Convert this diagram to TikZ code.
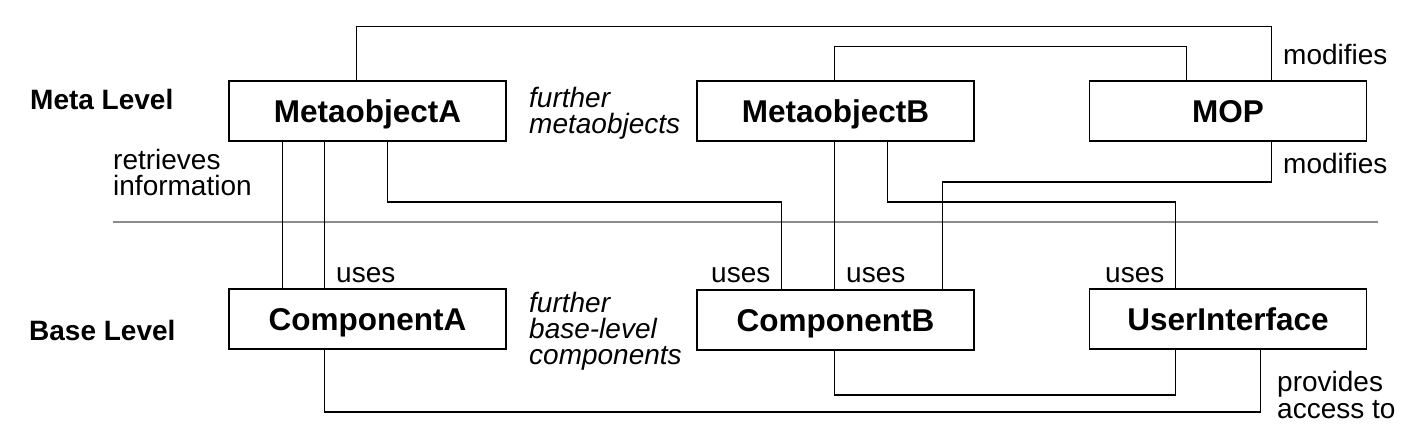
\documentclass[tikz,border=0pt]{standalone}
\usepackage{fontspec}
\setmainfont{Liberation Sans}
\begin{document}
\begin{tikzpicture}[x=1pt,y=-1pt,
  box/.style={draw=black,line width=1.6pt,minimum width=277pt,minimum height=60pt,inner sep=0pt,
    font=\fontsize{31.5}{33}\selectfont\bfseries,text height=22pt,text depth=0pt},
  lbl/.style={inner sep=0pt,anchor=base west,font=\fontsize{28}{30}\selectfont,align=left},
  ilbl/.style={lbl,font=\fontsize{28}{30}\selectfont\itshape},
  blbl/.style={lbl,font=\fontsize{28}{30}\selectfont\bfseries},
  conn/.style={draw=black,line width=1.4pt},
  sep/.style={draw=black!45,line width=1.8pt}]
\useasboundingbox (0,0) rectangle (1424,440);

% separator
\coordinate (sepL) at (113,222);
\coordinate (sepR) at (1378,222);
\draw[sep] (sepL) -- (sepR);

% boxes
\node[box] (mA)  at (367.5,111) {MetaobjectA};
\node[box] (mB)  at (835.5,111) {MetaobjectB};
\node[box] (mop) at (1228,111)  {MOP};
\node[box] (cA)  at (367.5,319) {ComponentA};
\node[box] (cB)  at (835.5,320) {ComponentB};
\node[box] (ui)  at (1228,319)  {UserInterface};

% level labels
\node[blbl] (ml) at (30,109) {Meta Level};
\node[blbl] (bl) at (29,340) {Base Level};

% other labels
\node[lbl] (ret1) at (113,169) {retrieves};
\node[lbl] (ret2) at (113,195) {information};
\node[ilbl] (fm1) at (529,107) {further};
\node[ilbl] (fm2) at (529,133) {metaobjects};
\node[ilbl] (fb1) at (529,312) {further};
\node[ilbl] (fb2) at (529,338) {base-level};
\node[ilbl] (fb3) at (529,364) {components};
\node[lbl] (mod1) at (1283,64) {modifies};
\node[lbl] (mod2) at (1283,173) {modifies};
\node[lbl] (u1) at (336,282) {uses};
\node[lbl] (u2) at (711,282) {uses};
\node[lbl] (u3) at (846,282) {uses};
\node[lbl] (u4) at (1105,282) {uses};
\node[lbl] (pa1) at (1277,391) {provides};
\node[lbl] (pa2) at (1277,418) {access to};

% connectors
\draw[conn] ([xshift=128pt]mA.north west) -- ++(0,-54) -| ([xshift=183pt]mop.north west);
\draw[conn] ([xshift=138pt]mB.north west) -- ++(0,-34) -| ([xshift=98pt]mop.north west);
\draw[conn] ([xshift=183pt]mop.south west) -- ++(0,40) -| ([xshift=246pt]cB.north west);
\draw[conn] ([xshift=138pt]mB.south west) -- ([xshift=138pt]cB.north west);
\draw[conn] ([xshift=191pt]mB.south west) -- ++(0,60) -| ([xshift=87pt]ui.north west);
\draw[conn] ([xshift=54pt]mA.south west) -- ([xshift=54pt]cA.north west);
\draw[conn] ([xshift=96pt]mA.south west) -- ([xshift=96pt]cA.north west);
\draw[conn] ([xshift=159pt]mA.south west) -- ++(0,60) -| ([xshift=85pt]cB.north west);
\draw[conn] ([xshift=96pt]cA.south west) -- ++(0,62) -| ([xshift=172pt]ui.south west);
\draw[conn] ([xshift=138pt]cB.south west) -- ++(0,44) -| ([xshift=87pt]ui.south west);
\end{tikzpicture}
\end{document}
